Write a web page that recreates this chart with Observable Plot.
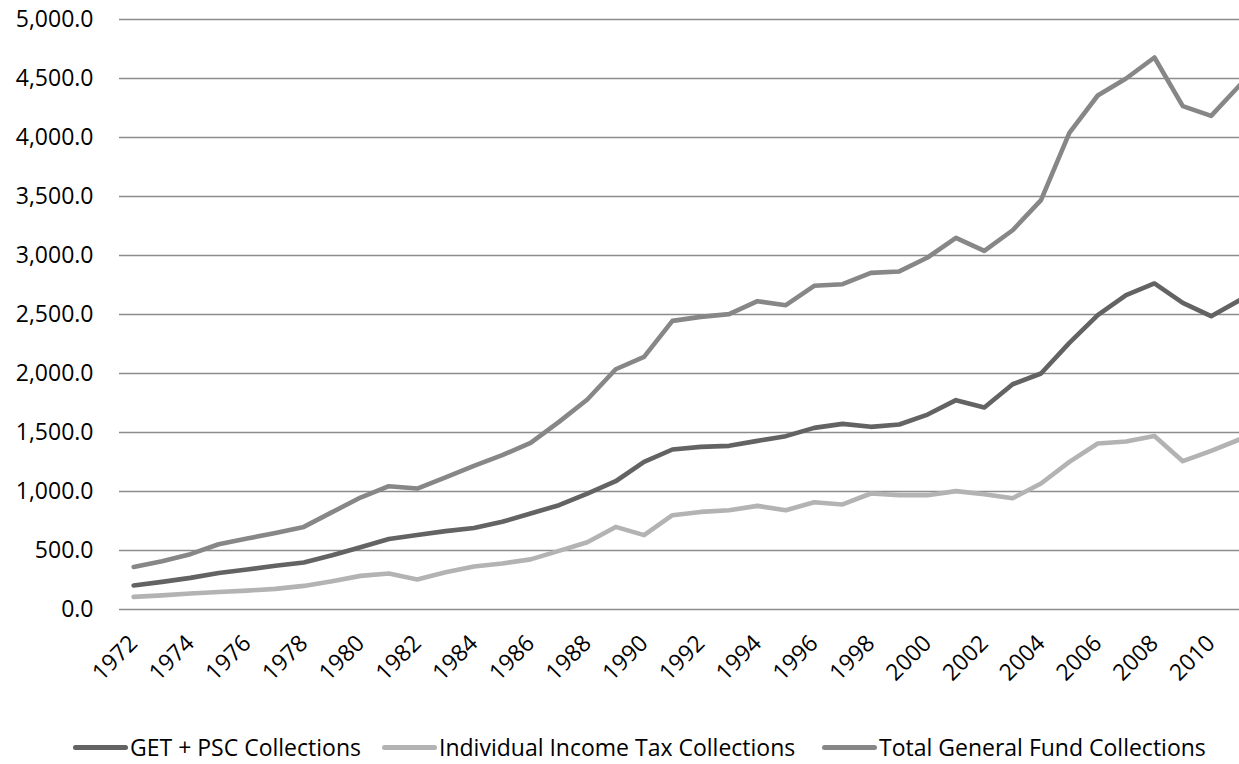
<!DOCTYPE html>
<html>
<head>
<meta charset="utf-8">
<script src="https://cdn.jsdelivr.net/npm/d3@7"></script>
<script src="https://cdn.jsdelivr.net/npm/@observablehq/plot@0.6"></script>
<style>
  html, body { margin: 0; padding: 0; background: #fff; }
  body { width: 1239px; height: 764px; overflow: hidden; position: relative; font-family: "Open Sans", sans-serif; }
  #legend { position: absolute; left: 0; top: 730px; width: 1239px; height: 34px; }
  .item { position: absolute; top: 0; height: 34px; display: flex; align-items: center; font-size: 23px; color: #000; white-space: nowrap; }
  .swatch { width: 55px; height: 5px; border-radius: 2.5px; margin-right: 2px; }
</style>
</head>
<body>
<div id="chart"></div>
<div id="legend"></div>
<script>
// Fiscal years on the category axis
const years = d3.range(1972, 2012);
const tickYears = d3.range(1972, 2012, 2);
const yTicks = d3.range(0, 5001, 500);

// Collections by fiscal year
const getPsc = [203, 234, 268, 310, 339, 370, 398, 460, 528, 598,
                632, 664, 690, 743, 814, 884, 983, 1087, 1251, 1356,
                1378, 1387, 1429, 1469, 1539, 1573, 1548, 1568, 1652, 1774,
                1712, 1909, 2000, 2260, 2494, 2664, 2763, 2598, 2486, 2621];
const incomeTax = [107, 120, 135, 148, 160, 175, 200, 240, 285, 305,
                   255, 315, 365, 390, 425, 497, 570, 700, 630, 799,
                   827, 841, 878, 841, 909, 890, 983, 969, 969, 1003,
                   977, 943, 1068, 1251, 1407, 1424, 1471, 1257, 1344, 1441];
const totalGf = [361, 409, 469, 553, 601, 649, 700, 825, 949, 1045,
                 1025, 1119, 1217, 1308, 1412, 1590, 1780, 2036, 2141, 2446,
                 2480, 2503, 2613, 2579, 2743, 2757, 2853, 2865, 2983, 3149,
                 3039, 3214, 3469, 4039, 4356, 4500, 4678, 4266, 4183, 4441];

const seriesNames = ["GET + PSC Collections", "Individual Income Tax Collections", "Total General Fund Collections"];
const seriesColors = ["#636363", "#b3b3b3", "#878787"];
const seriesValues = [getPsc, incomeTax, totalGf];

const rows = seriesNames.flatMap((name, s) =>
  years.map((year, i) => ({series: name, year, value: seriesValues[s][i]})));

const chart = Plot.plot({
  width: 1239,
  height: 730,
  marginLeft: 119,
  marginRight: 0,
  marginTop: 19,
  marginBottom: 121,
  style: {fontFamily: "'Open Sans', sans-serif", fontSize: "23px", color: "#000", background: "#fff", overflow: "hidden"},
  x: {domain: [1971.5, 2011], label: null},
  y: {domain: [0, 5000], label: null},
  color: {domain: seriesNames, range: seriesColors},
  marks: [
    Plot.gridY(yTicks, {stroke: "#8c8c8c", strokeOpacity: 1, strokeWidth: 1.4}),
    Plot.axisY(yTicks, {tickSize: 0, tickPadding: 26, fontSize: 23, tickFormat: d3.format(",.1f"), label: null}),
    Plot.axisX(tickYears, {tickSize: 0, tickPadding: 30, fontSize: 23, tickRotate: -45, tickFormat: d => String(d), label: null}),
    Plot.line(rows, {x: "year", y: "value", z: "series", stroke: "series",
                     strokeWidth: 4.6, strokeLinejoin: "round", strokeLinecap: "round"})
  ]
});
document.getElementById("chart").appendChild(chart);

// Legend below the plot
const legendX = [73, 382, 822];
const legend = document.getElementById("legend");
seriesNames.forEach((name, i) => {
  const item = document.createElement("div");
  item.className = "item";
  item.style.left = legendX[i] + "px";
  const sw = document.createElement("span");
  sw.className = "swatch";
  sw.style.background = seriesColors[i];
  const label = document.createElement("span");
  label.textContent = name;
  item.appendChild(sw);
  item.appendChild(label);
  legend.appendChild(item);
});
</script>
</body>
</html>
